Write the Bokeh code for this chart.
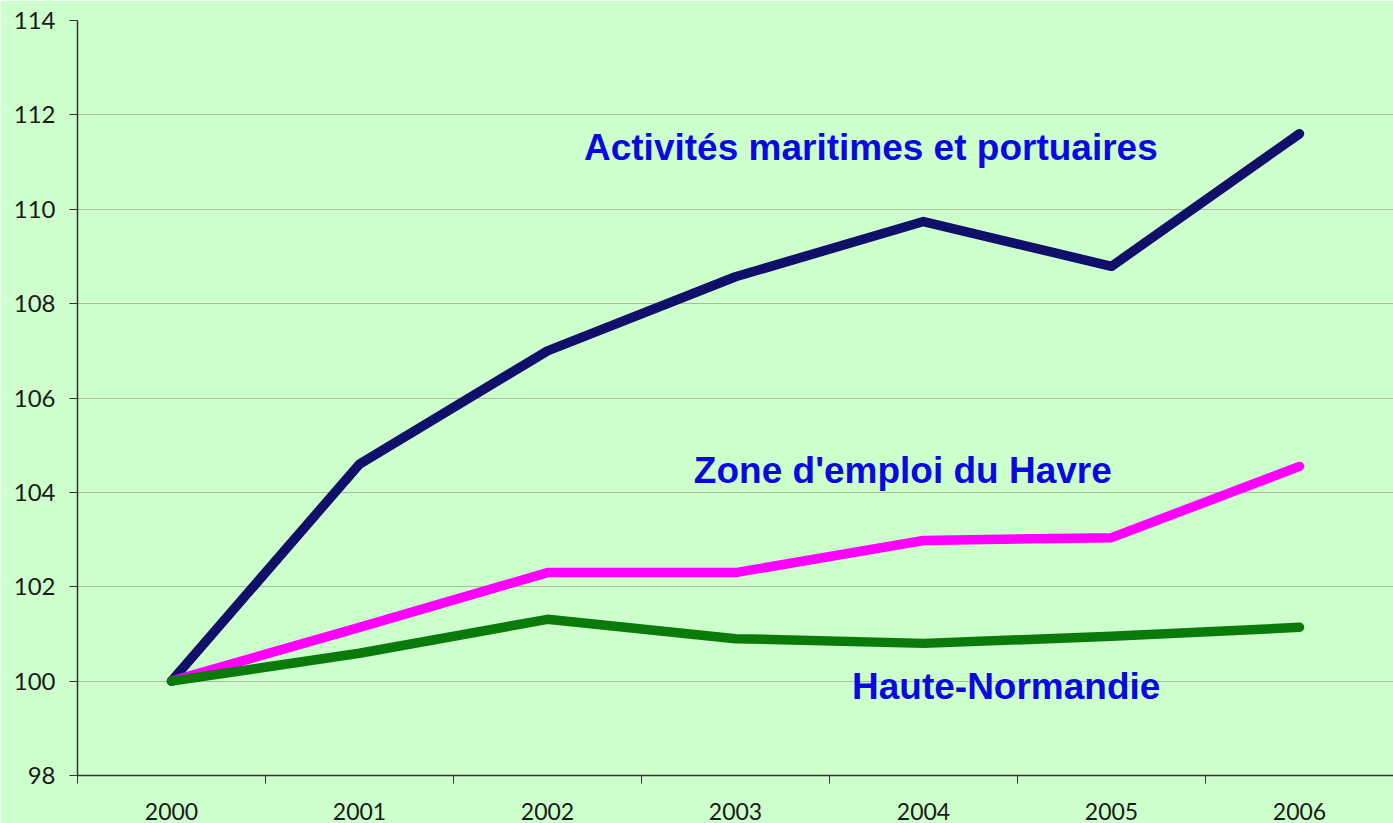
from bokeh.plotting import figure
from bokeh.models import FixedTicker, Range1d, Label
from bokeh.embed import file_html
from bokeh.resources import INLINE

years = ["2000", "2001", "2002", "2003", "2004", "2005", "2006"]
maritime = [100, 104.6, 107.0, 108.57, 109.74, 108.79, 111.6]
havre = [100, 101.14, 102.3, 102.3, 102.98, 103.04, 104.55]
normandie = [100, 100.59, 101.31, 100.9, 100.8, 100.95, 101.14]
y_ticks = [98, 100, 102, 104, 106, 108, 110, 112, 114]

xs = list(range(len(years)))
BG = "#ccffcc"

p = figure(width=1393, height=823, output_backend="svg", toolbar_location=None,
           x_range=Range1d(-0.5, len(years) - 0.5), y_range=Range1d(98, 114),
           min_border_left=77, min_border_right=0, min_border_top=20, min_border_bottom=48)
p.background_fill_color = BG
p.border_fill_color = BG
p.outline_line_color = None

p.line(xs, maritime, line_color="#10106a", line_width=9.5, line_join="round", line_cap="round")
p.line(xs, havre, line_color="#ff00ff", line_width=9.5, line_join="round", line_cap="round")
p.line(xs, normandie, line_color="#0a7a0a", line_width=9.5, line_join="round", line_cap="round")

# x axis: labels at categories, tick marks between categories
xt = FixedTicker(ticks=xs, minor_ticks=[i - 0.5 for i in range(len(years) + 1)])
p.xaxis.ticker = xt
p.xaxis.major_label_overrides = {i: y for i, y in enumerate(years)}
p.xaxis.major_tick_out = 0
p.xaxis.major_tick_in = 0
p.xaxis.minor_tick_out = 8
p.xaxis.minor_tick_in = 0
p.xaxis.minor_tick_line_color = "#333333"
p.xaxis.axis_line_color = "#333333"
p.xaxis.axis_line_width = 1.5
p.xaxis.major_label_text_font = "Lato"
p.xaxis.major_label_text_font_size = "23px"
p.xaxis.major_label_text_color = "#1a1a1a"
p.xaxis.major_label_standoff = 19

p.yaxis.ticker = FixedTicker(ticks=y_ticks)
p.yaxis.major_tick_out = 8
p.yaxis.major_tick_in = 0
p.yaxis.minor_tick_line_color = None
p.yaxis.major_tick_line_color = "#333333"
p.yaxis.axis_line_color = "#333333"
p.yaxis.axis_line_width = 1.5
p.yaxis.major_label_text_font = "Lato"
p.yaxis.major_label_text_font_size = "24px"
p.yaxis.major_label_text_color = "#1a1a1a"
p.yaxis.major_label_standoff = 14

p.xgrid.grid_line_color = None
p.ygrid.ticker = FixedTicker(ticks=y_ticks[1:])
p.ygrid.grid_line_color = "#b0b898"
p.ygrid.grid_line_width = 1.2

lab_kw = dict(text_font="Liberation Sans", text_font_style="bold", text_font_size="37px",
              text_color="#0a0ae0", text_align="center", text_baseline="middle")
p.add_layout(Label(x=3.72, y=111.3, text="Activités maritimes et portuaires", **lab_kw))
p.add_layout(Label(x=3.89, y=104.46, text="Zone d'emploi du Havre", **lab_kw))
p.add_layout(Label(x=4.44, y=99.89, text="Haute-Normandie", **lab_kw))

open("out.html", "w").write(file_html(p, INLINE))
